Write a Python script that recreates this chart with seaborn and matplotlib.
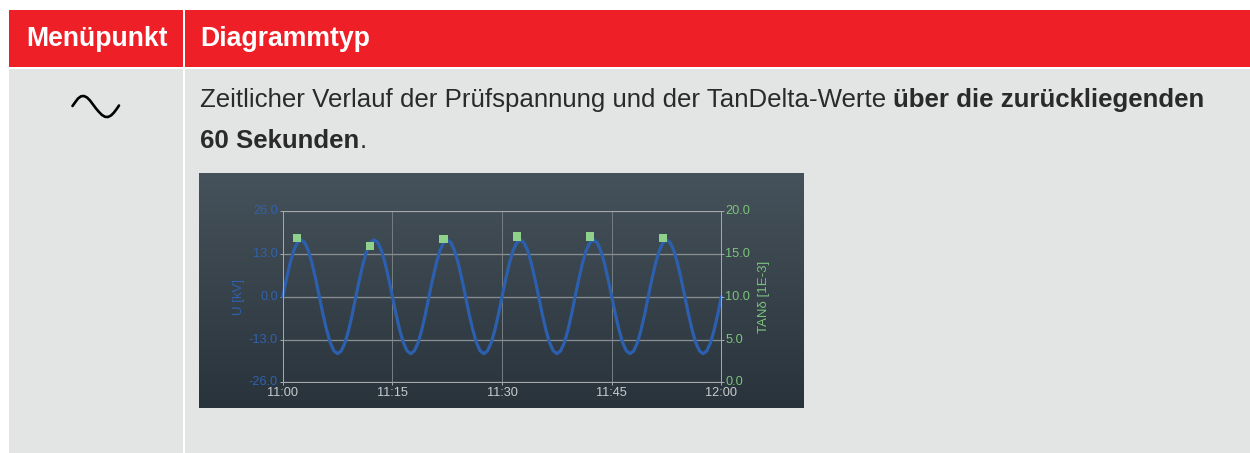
import numpy as np
import pandas as pd
import matplotlib
matplotlib.use("Agg")
import matplotlib.pyplot as plt
from matplotlib.patches import Rectangle
from matplotlib.transforms import ScaledTranslation
import seaborn as sns

# ---------- data ----------
seconds = [0.5 * i for i in range(121)]
voltage_kv = [
    0.0, 5.3, 10.1, 14.0, 16.4, 17.3, 16.5, 14.1, 10.3, 5.5,
    0.2, -5.2, -10.0, -13.9, -16.4, -17.3, -16.5, -14.1, -10.3, -5.5,
    0.0, 5.3, 10.1, 14.0, 16.4, 17.3, 16.5, 14.1, 10.3, 5.5,
    0.2, -5.2, -10.0, -13.9, -16.4, -17.3, -16.5, -14.1, -10.3, -5.5,
    0.0, 5.3, 10.1, 14.0, 16.4, 17.3, 16.5, 14.1, 10.3, 5.5,
    0.2, -5.2, -10.0, -13.9, -16.4, -17.3, -16.5, -14.1, -10.3, -5.5,
    0.0, 5.3, 10.1, 14.0, 16.4, 17.3, 16.5, 14.1, 10.3, 5.5,
    0.2, -5.2, -10.0, -13.9, -16.4, -17.3, -16.5, -14.1, -10.3, -5.5,
    0.0, 5.3, 10.1, 14.0, 16.4, 17.3, 16.5, 14.1, 10.3, 5.5,
    0.2, -5.2, -10.0, -13.9, -16.4, -17.3, -16.5, -14.1, -10.3, -5.5,
    0.0, 5.3, 10.1, 14.0, 16.4, 17.3, 16.5, 14.1, 10.3, 5.5,
    0.2, -5.2, -10.0, -13.9, -16.4, -17.3, -16.5, -14.1, -10.3, -5.5,
    0.0,
]
tan_seconds = [2, 12, 22, 32, 42, 52]
tan_delta = [16.85, 15.95, 16.75, 17.05, 17.05, 16.85]
x_ticks = [0, 15, 30, 45, 60]
x_labels = ["11:00", "11:15", "11:30", "11:45", "12:00"]
u_ticks = [-26.0, -13.0, 0.0, 13.0, 26.0]
tan_ticks = [0.0, 5.0, 10.0, 15.0, 20.0]
header_left = "Menüpunkt"
header_right = "Diagrammtyp"
line1_plain = "Zeitlicher Verlauf der Prüfspannung und der TanDelta-Werte "
line1_bold = "über die zurückliegenden"
line2_bold = "60 Sekunden"
line2_plain = "."
u_label = "U [kV]"
tan_label = "TANδ [1E-3]"
# ------------------------------------------------

W, H = 1250, 453
BLUE = "#2C5FAE"
GREEN = "#8FD18A"
U_TEXT = "#2F62B0"
TAN_TEXT = "#7CC47A"
FRAME = "#A3A8AA"
sns.set_theme(style="white")
plt.rcParams["font.family"] = ["Liberation Sans", "DejaVu Sans"]

fig = plt.figure(figsize=(W / 100, H / 100), dpi=100, facecolor="white")

# page layer in pixel coordinates
page = fig.add_axes([0, 0, 1, 1], zorder=0)
page.set_xlim(0, W)
page.set_ylim(H, 0)
page.axis("off")
page.add_patch(Rectangle((9, 9.5), W - 9, 57.8, fc="#EE1F27", ec="none"))
page.add_patch(Rectangle((9, 69), W - 9, H - 69, fc="#E3E5E4", ec="none"))
page.add_patch(Rectangle((183.2, 9.5), 1.9, H - 9.5, fc="white", ec="none"))

BODY_FS = 18.6
page.text(96.5, 38.5, header_left, color="white", fontsize=19.2, fontweight="bold", ha="center", va="center")
page.text(200, 38.5, header_right, color="white", fontsize=19.2, fontweight="bold", ha="left", va="center")
t = page.text(200, 100, line1_plain, color="#2A2A2A", fontsize=BODY_FS, ha="left", va="center")
fig.canvas.draw()
bb = t.get_window_extent()
page.text(bb.x1, 100, line1_bold, color="#2A2A2A", fontsize=BODY_FS, fontweight="bold", ha="left", va="center")
t2 = page.text(200, 140.5, line2_bold, color="#2A2A2A", fontsize=BODY_FS, fontweight="bold", ha="left", va="center")
fig.canvas.draw()
bb2 = t2.get_window_extent()
page.text(bb2.x1, 140.5, line2_plain, color="#2A2A2A", fontsize=BODY_FS, ha="left", va="center")

# tilde symbol of the menu column
icon_x = [72.5, 75, 78, 81, 84, 87, 90, 93, 96, 99, 102, 105, 108, 111, 114, 117, 119]
icon_y = [106, 102.5, 98.5, 96.3, 96, 97.5, 100.5, 104.5, 108.5, 112, 115, 116.8, 117, 115.5, 112.5, 108.5, 105.5]
page.plot(icon_x, icon_y, color="black", lw=1.9, solid_capstyle="round")

# dark chart panel with vertical gradient
panel = fig.add_axes([199 / W, 1 - 408 / H, 605 / W, 235 / H], zorder=1)
panel.imshow(np.linspace(0, 1, 256).reshape(-1, 1),
             cmap=matplotlib.colors.LinearSegmentedColormap.from_list("p", ["#46525B", "#29333B"]),
             aspect="auto", interpolation="bilinear")
panel.axis("off")

# plot area
x0, x1, y0, y1 = 282.7, 721.3, 211.3, 382.3
ax = fig.add_axes([x0 / W, 1 - y1 / H, (x1 - x0) / W, (y1 - y0) / H], zorder=2)
ax.patch.set_alpha(0)
df_u = pd.DataFrame({"t": seconds, "u": voltage_kv})
ax.set_xlim(0, 60)
ax.set_ylim(-26, 26)
ax.set_xticks(x_ticks)
ax.set_xticklabels(x_labels)
ax.set_yticks(u_ticks)
ax.set_yticklabels([f"{v:.1f}" for v in u_ticks])
ax.grid(True, axis="y", color="#868C90", lw=0.95)
ax.grid(True, axis="x", color="#757C81", lw=0.72)
ax.set_axisbelow(True)
sns.lineplot(data=df_u, x="t", y="u", color=BLUE, lw=2.3, ax=ax, errorbar=None, zorder=3, clip_on=False)
ax.set_xlim(0, 60)
ax.set_ylim(-26, 26)
ax.set_xlabel("")
ax.set_ylabel(u_label, color=U_TEXT, fontsize=9.5, labelpad=2.5)
ax.tick_params(axis="x", colors="#C8CCCE", labelsize=9.2, length=2.2, width=0.72, pad=1.2, bottom=True, color=FRAME)
ax.tick_params(axis="y", labelcolor=U_TEXT, labelsize=9.2, length=2.2, width=0.72, pad=1.2, left=True, color=FRAME)
up = ScaledTranslation(0, 1.5 / 100, fig.dpi_scale_trans)
for lab in ax.get_yticklabels():
    lab.set_transform(lab.get_transform() + up)
for s in ax.spines.values():
    s.set_color(FRAME)
    s.set_linewidth(0.72)

ax2 = ax.twinx()
ax2.patch.set_alpha(0)
df_t = pd.DataFrame({"t": tan_seconds, "tan": tan_delta})
sns.scatterplot(data=df_t, x="t", y="tan", marker="s", s=34, color=GREEN, edgecolor="none", linewidth=0, ax=ax2, zorder=5, clip_on=False)
ax2.set_ylim(0, 20)
ax2.set_yticks(tan_ticks)
ax2.set_yticklabels([f"{v:.1f}" for v in tan_ticks])
ax2.set_ylabel(tan_label, color=TAN_TEXT, fontsize=9.5, labelpad=5.5)
ax2.tick_params(axis="y", labelcolor=TAN_TEXT, labelsize=9.2, length=2.2, width=0.72, pad=0.6, right=True, color=FRAME)
for lab in ax2.get_yticklabels():
    lab.set_transform(lab.get_transform() + up)
for s in ax2.spines.values():
    s.set_color(FRAME)
    s.set_linewidth(0.72)

fig.savefig("out.png", dpi=100, facecolor="white")
